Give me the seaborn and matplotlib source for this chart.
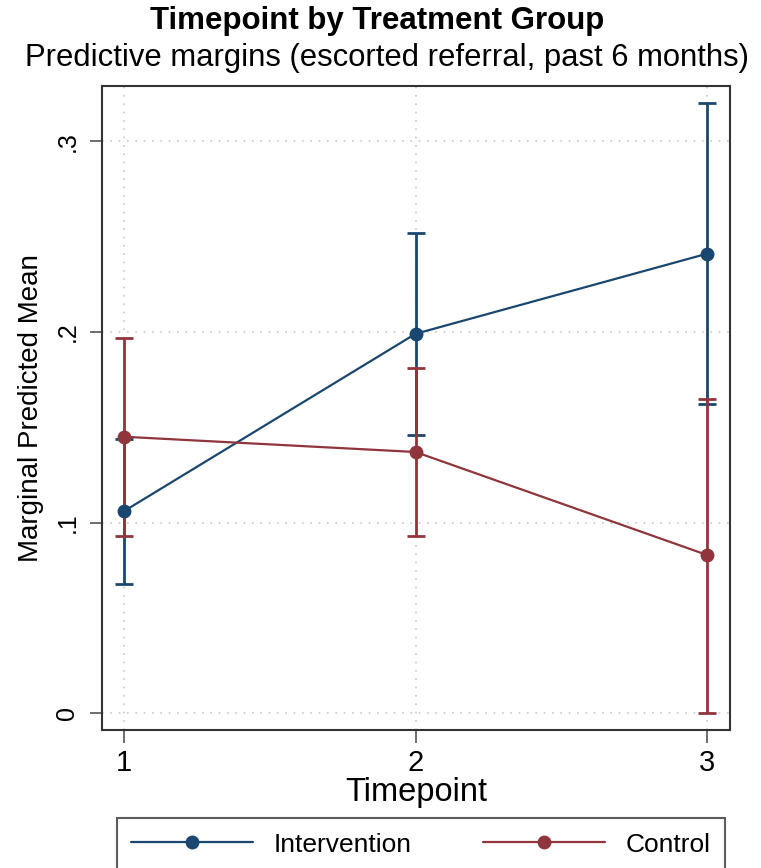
import pandas as pd
import matplotlib
matplotlib.use("Agg")
import matplotlib.pyplot as plt
import seaborn as sns
from matplotlib.lines import Line2D

# values
timepoints = [1, 2, 3]
intervention_mean = [0.106, 0.199, 0.241]
intervention_lo = [0.068, 0.146, 0.162]
intervention_hi = [0.144, 0.252, 0.320]
control_mean = [0.145, 0.137, 0.083]
control_lo = [0.093, 0.093, 0.000]
control_hi = [0.197, 0.181, 0.165]
groups = ["Intervention", "Control"]
yticks = [0, 0.1, 0.2, 0.3]
ytick_labels = ["0", ".1", ".2", ".3"]

colors = {"Intervention": "#1a476f", "Control": "#90353b"}

df = pd.DataFrame({
    "Timepoint": timepoints * 2,
    "mean": intervention_mean + control_mean,
    "lo": intervention_lo + control_lo,
    "hi": intervention_hi + control_hi,
    "group": [groups[0]] * 3 + [groups[1]] * 3,
})

sns.set_style("white")
plt.rcParams['font.family'] = ['Liberation Sans', 'DejaVu Sans']
plt.rcParams['text.color'] = 'black'
plt.rcParams['axes.labelcolor'] = 'black'
plt.rcParams['xtick.color'] = 'black'
plt.rcParams['ytick.color'] = 'black'

fig = plt.figure(figsize=(7.61, 8.68), dpi=100)
ax = fig.add_axes([0.1336, 0.159, 0.8257, 0.742])

# confidence intervals first, points/lines on top
for g in groups:
    d = df[df.group == g]
    ax.errorbar(d["Timepoint"], d["mean"],
                yerr=[d["mean"] - d["lo"], d["hi"] - d["mean"]],
                fmt="none", ecolor=colors[g], elinewidth=2.0, capsize=6.5,
                capthick=2.0, zorder=2)

sns.lineplot(data=df, x="Timepoint", y="mean", hue="group", palette=colors,
             marker="o", markersize=10, markeredgewidth=0, linewidth=1.6,
             ax=ax, legend=False, zorder=3)

ax.set_xlim(0.923, 3.079)
ax.set_ylim(-0.0088, 0.329)
ax.set_xticks(timepoints)
ax.set_xticklabels([str(t) for t in timepoints], fontsize=21)
ax.set_yticks(yticks)
ax.set_yticklabels(ytick_labels, fontsize=18, rotation=90, va="center")
ax.tick_params(axis="both", direction="out", length=9, width=1.2,
               color="#555555", pad=7, left=True, bottom=True)
ax.tick_params(axis="x", pad=5)
ax.grid(True, color="#c8c8c8", linestyle=(0, (1, 4)), linewidth=1.2)
for s in ax.spines.values():
    s.set_color("#333333")
    s.set_linewidth(1.5)

ax.set_xlabel("Timepoint", fontsize=23.5, labelpad=0)
ax.set_ylabel("Marginal Predicted Mean", fontsize=20, labelpad=8)

fig.text(377 / 761, 1 - 21 / 868, "Timepoint by Treatment Group",
         fontsize=22.5, fontweight="bold", ha="center", va="center")
fig.text(387 / 761, 1 - 58 / 868,
         "Predictive margins (escorted referral, past 6 months)",
         fontsize=22.3, ha="center", va="center")

handles = [Line2D([0], [0], color=colors[g], marker="o", markersize=10,
                  markeredgewidth=0, linewidth=1.6) for g in groups]
leg = fig.legend(handles, groups, loc="upper center",
                 bbox_to_anchor=(421 / 761, 1 - 818 / 868), ncol=2,
                 fontsize=19, frameon=True, fancybox=False, borderaxespad=0,
                 handlelength=4.6, handletextpad=0.8, columnspacing=2.7,
                 borderpad=0.55)
leg.get_frame().set_edgecolor("#333333")
leg.get_frame().set_linewidth(1.5)

fig.savefig("out.png", dpi=100)
